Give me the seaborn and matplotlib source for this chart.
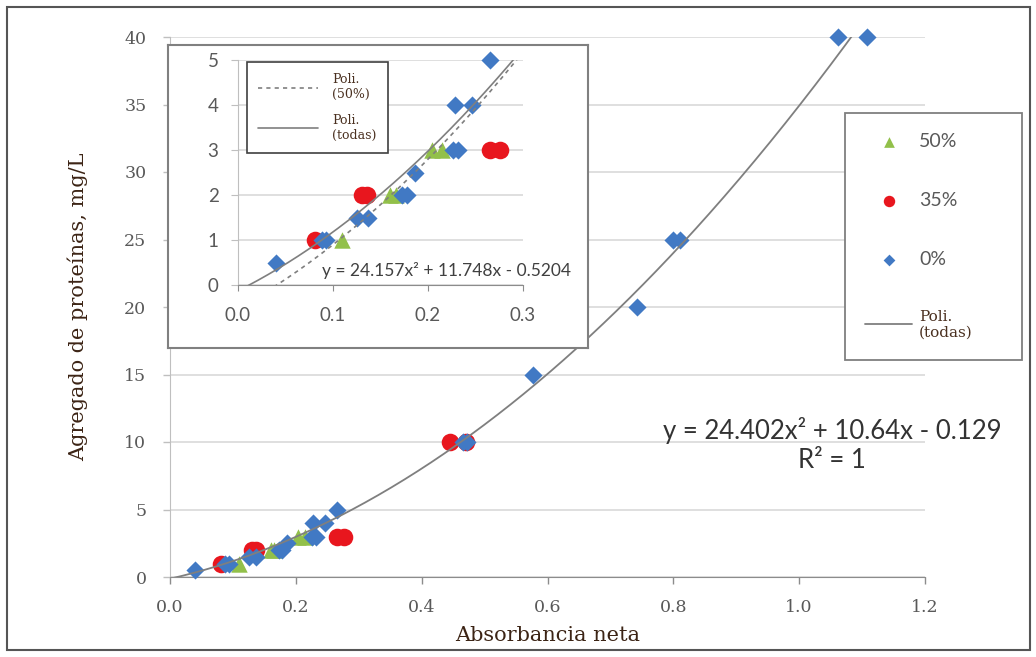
import matplotlib.pyplot as plt
import numpy as np
import pandas as pd
import seaborn as sns
from matplotlib.lines import Line2D
from matplotlib.patches import Rectangle


# 0% series (blue diamonds): absorbance vs protein aggregate (mg/L)
abs_0 = [0.040, 0.088, 0.093, 0.125, 0.137, 0.173, 0.178, 0.186, 0.226, 0.232,
         0.228, 0.246, 0.265, 0.465, 0.472, 0.577, 0.743, 0.800, 0.810, 1.062, 1.108]
conc_0 = [0.5, 1, 1, 1.5, 1.5, 2, 2, 2.5, 3, 3,
          4, 4, 5, 10, 10, 15, 20, 25, 25, 40, 40]

# 35% series (red circles)
abs_35 = [0.081, 0.130, 0.136, 0.265, 0.276, 0.445, 0.470]
conc_35 = [1, 2, 2, 3, 3, 10, 10]

# 50% series (green triangles)
abs_50 = [0.109, 0.160, 0.166, 0.204, 0.215]
conc_50 = [1, 2, 2, 3, 3]

# trendline coefficients taken from the equations printed on the chart
coef_todas = [24.402, 10.64, -0.129]
coef_50 = [24.157, 11.748, -0.5204]

xticks_main = [0.0, 0.2, 0.4, 0.6, 0.8, 1.0, 1.2]
yticks_main = [0, 5, 10, 15, 20, 25, 30, 35, 40]
xticks_inset = [0.0, 0.1, 0.2, 0.3]
yticks_inset = [0, 1, 2, 3, 4, 5]

W, H = 1036, 657

COLORS = {'50%': '#92c04a', '35%': '#e8161e', '0%': '#4179c4'}
MARKERS = {'50%': '^', '35%': 'o', '0%': 'D'}
SIZES = {'50%': 140, '35%': 160, '0%': 85}
TICK_COLOR = '#595959'
LABEL_COLOR = '#3c2415'
GRID_COLOR = '#d9d9d9'
LINE_COLOR = '#7f7f7f'


def fig_box(x0, y0, x1, y1):
    """pixel box (top-left origin) -> figure fraction rect"""
    return [x0 / W, 1 - y1 / H, (x1 - x0) / W, (y1 - y0) / H]


def draw_points(ax, df):
    for name in ['50%', '35%', '0%']:
        sub = df[df['grupo'] == name]
        sns.scatterplot(data=sub, x='abs', y='conc', ax=ax, color=COLORS[name],
                        marker=MARKERS[name], s=SIZES[name], linewidth=0,
                        label=name, zorder=3, clip_on=False, legend=False)


def style_axis(ax, tick_font, tick_size):
    ax.grid(True, axis='y', color=GRID_COLOR, linewidth=1.2)
    ax.grid(False, axis='x')
    ax.set_axisbelow(True)
    for side in ['top', 'right']:
        ax.spines[side].set_visible(False)
    ax.spines['left'].set_color('#bfbfbf')
    ax.spines['bottom'].set_color('#8c8c8c')
    for lab in ax.get_xticklabels() + ax.get_yticklabels():
        lab.set_fontfamily(tick_font)
        lab.set_fontsize(tick_size)
        lab.set_color(TICK_COLOR)


sns.set_style('white')
plt.rcParams['font.family'] = ['DejaVu Sans']

df = pd.concat([
    pd.DataFrame({'abs': abs_50, 'conc': conc_50, 'grupo': '50%'}),
    pd.DataFrame({'abs': abs_35, 'conc': conc_35, 'grupo': '35%'}),
    pd.DataFrame({'abs': abs_0, 'conc': conc_0, 'grupo': '0%'}),
], ignore_index=True)

fig = plt.figure(figsize=(W / 100, H / 100), dpi=100)

# ---- main chart
ax = fig.add_axes(fig_box(170, 37, 925, 577))
draw_points(ax, df)
xs = np.linspace(0, 1.2, 400)
sns.lineplot(x=xs, y=np.polyval(coef_todas, xs), ax=ax, color=LINE_COLOR,
             linewidth=1.3, estimator=None, zorder=4, label='Poli.\n(todas)', legend=False)
ax.set_xlim(0, 1.2)
ax.set_ylim(0, 40)
ax.set_xticks(xticks_main)
ax.set_xticklabels([f'{v:.1f}' for v in xticks_main])
ax.set_yticks(yticks_main)
ax.tick_params(axis='x', direction='out', length=5, width=1, color='#8c8c8c', pad=11, bottom=True)
ax.tick_params(axis='y', direction='out', length=5, width=1, color='#bfbfbf', pad=12, left=True)
style_axis(ax, 'DejaVu Serif', 12.5)
ax.set_xlabel('Absorbancia neta', family='DejaVu Serif', fontsize=15, color=LABEL_COLOR)
ax.set_ylabel('Agregado de proteínas, mg/L', family='DejaVu Serif', fontsize=15, color=LABEL_COLOR)
ax.xaxis.set_label_coords(0.5, -0.09)
ax.yaxis.set_label_coords(-0.108, 0.5)

ax.text(0.877, 0.272, 'y = 24.402x² + 10.64x - 0.129', transform=ax.transAxes,
        ha='center', va='center', family='Lato', fontsize=18.5, color='#333333')
ax.text(0.877, 0.215, 'R² = 1', transform=ax.transAxes,
        ha='center', va='center', family='Lato', fontsize=18.5, color='#333333')

handles, labels = ax.get_legend_handles_labels()
leg = ax.legend(handles, labels, loc='upper left',
                bbox_to_anchor=(845 / W, 1 - 113 / H - 0.01, 177 / W, 0.01),
                bbox_transform=fig.transFigure, mode='expand', borderaxespad=0,
                prop={'family': 'Lato', 'size': 14}, markerscale=0.65,
                labelspacing=2.15, borderpad=1.05, handlelength=2.4,
                handletextpad=0.35, frameon=True, fancybox=False, framealpha=1)
leg.get_frame().set_edgecolor('#7f7f7f')
leg.get_frame().set_linewidth(1.3)
for t in leg.get_texts():
    t.set_color(TICK_COLOR)
poli = leg.get_texts()[-1]
poli.set_fontfamily('DejaVu Serif')
poli.set_fontsize(11)
poli.set_color('#4a3020')

# ---- inset frame
box = fig.add_axes(fig_box(168, 45, 588, 348))
box.set_xticks([])
box.set_yticks([])
for sp in box.spines.values():
    sp.set_color('#808080')
    sp.set_linewidth(1.5)

# ---- inset chart
ax_in = fig.add_axes(fig_box(238, 60, 523, 285))
ax_in.patch.set_visible(False)
draw_points(ax_in, df)
xs_in = np.linspace(0, 0.3, 200)
sns.lineplot(x=xs_in, y=np.polyval(coef_50, xs_in), ax=ax_in, color=LINE_COLOR,
             linewidth=1.2, linestyle=(0, (2.5, 2.5)), estimator=None, zorder=4, legend=False)
sns.lineplot(x=xs_in, y=np.polyval(coef_todas, xs_in), ax=ax_in, color=LINE_COLOR,
             linewidth=1.2, estimator=None, zorder=4, legend=False)
ax_in.set_xlim(0, 0.3)
ax_in.set_ylim(0, 5)
ax_in.set_xticks(xticks_inset)
ax_in.set_xticklabels([f'{v:.1f}' for v in xticks_inset])
ax_in.set_yticks(yticks_inset)
ax_in.set_xlabel('')
ax_in.set_ylabel('')
ax_in.tick_params(axis='x', direction='out', length=4, color='#8c8c8c', pad=12, bottom=True)
ax_in.tick_params(axis='y', direction='out', length=5, color='#bfbfbf', pad=9, left=True)
style_axis(ax_in, 'Lato', 13.5)
ax_in.text(0.088, 0.33, 'y = 24.157x² + 11.748x - 0.5204', transform=ax_in.transData,
           ha='left', va='center', family='Lato', fontsize=12.5, color='#404040')

in_handles = [Line2D([], [], color=LINE_COLOR, linewidth=1.2, linestyle=(0, (2.5, 2.5))),
              Line2D([], [], color=LINE_COLOR, linewidth=1.2)]
leg_in = ax_in.legend(in_handles, ['Poli.\n(50%)', 'Poli.\n(todas)'], loc='upper left',
                      bbox_to_anchor=(247 / W, 1 - 62 / H), bbox_transform=fig.transFigure,
                      borderaxespad=0,
                      prop={'family': 'DejaVu Serif', 'size': 9}, labelspacing=1.0,
                      borderpad=0.9, handlelength=4.8, handletextpad=1.1,
                      frameon=True, fancybox=False, framealpha=1)
leg_in.get_frame().set_edgecolor('#404040')
leg_in.get_frame().set_linewidth(1.2)
for t in leg_in.get_texts():
    t.set_color('#4a3020')

# outer border of the picture
fig.add_artist(Rectangle((7 / W, 7 / H), (1030 - 7) / W, (650 - 7) / H,
                         transform=fig.transFigure, fill=False,
                         edgecolor='#555555', linewidth=1.5))

fig.savefig('out.png', dpi=100)
